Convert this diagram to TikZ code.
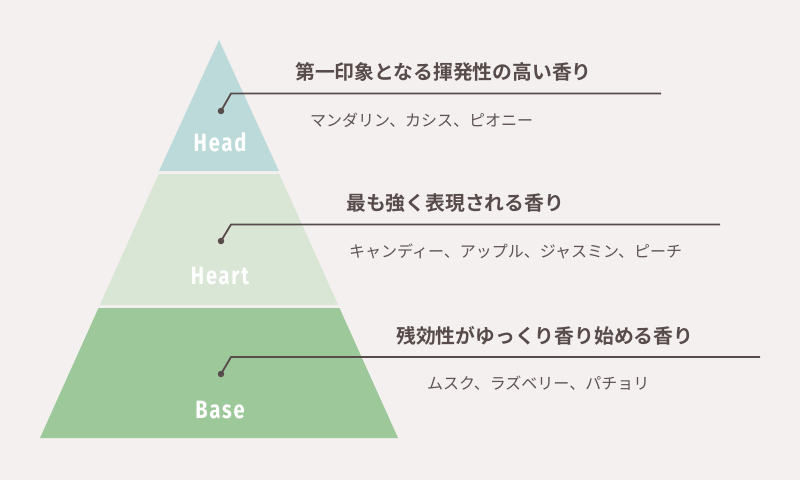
\documentclass[tikz,border=0pt]{standalone}
\usepackage{fontspec}
\setmainfont{Fira Sans}
\newfontfamily\jpfont{Noto Sans CJK JP}
\newfontfamily\jpbold{Noto Sans CJK JP Bold}
\newfontfamily\tierfont[LetterSpace=9]{Fira Sans Bold}
\usepackage{tikz}

\definecolor{bgcol}{HTML}{F4F0EF}
\definecolor{headcol}{HTML}{BCDADA}
\definecolor{heartcol}{HTML}{D9E5D5}
\definecolor{basecol}{HTML}{9DC89A}
\definecolor{inkcol}{HTML}{574B4B}
\definecolor{subcol}{HTML}{5E5454}

\begin{document}
\begin{tikzpicture}[x=1pt,y=-1pt,
    tier/.style={text=white,font=\tierfont\fontsize{25}{26}\selectfont,xscale=0.8,inner sep=0},
    title/.style={text=inkcol,font=\jpbold\fontsize{19.8}{20}\selectfont,anchor=west,inner sep=0},
    notes/.style={text=subcol,font=\jpfont\fontsize{16}{17}\selectfont,anchor=west,inner sep=0},
    leader/.style={draw=inkcol,line width=1.8pt},
    pin/.style={circle,fill=inkcol,inner sep=0,minimum size=6.5pt}]

  \fill[bgcol] (0,0) rectangle (800,480);

  % pyramid
  \fill[headcol]  (219,40) -- (278.9,171) -- (159.1,171) -- cycle;
  \fill[heartcol] (158.7,174) -- (279.3,174) -- (338.2,305) -- (99.8,305) -- cycle;
  \fill[basecol]  (98.5,308) -- (339.5,308) -- (398,438) -- (40,438) -- cycle;

  \node[tier] (head)  at (220,142) {Head};
  \node[tier] (heart) at (220,276) {Heart};
  \node[tier] (base)  at (220,410) {Base};

  % leaders
  \node[pin] (p1) at (221,111) {};
  \node[pin] (p2) at (221,241) {};
  \node[pin] (p3) at (221,374) {};
  \coordinate (k1) at (231,93.5);
  \coordinate (k2) at (231,224.5);
  \coordinate (k3) at (231,357);
  \coordinate (e1) at (661,93.5);
  \coordinate (e2) at (720,224.5);
  \coordinate (e3) at (760,357);

  \path[leader] (p1.center) -- (k1) -- (e1)
                (p2.center) -- (k2) -- (e2)
                (p3.center) -- (k3) -- (e3);

  % texts
  \node[title] (t1) at (295,72)  {第一印象となる揮発性の高い香り};
  \node[notes] (n1) at (310,120) {マンダリン、カシス、ピオニー};
  \node[title] (t2) at (346,203) {最も強く表現される香り};
  \node[notes] (n2) at (349,251) {キャンディー、アップル、ジャスミン、ピーチ};
  \node[title] (t3) at (396,336) {残効性がゆっくり香り始める香り};
  \node[notes] (n3) at (427,383) {ムスク、ラズベリー、パチョリ};

\end{tikzpicture}
\end{document}
